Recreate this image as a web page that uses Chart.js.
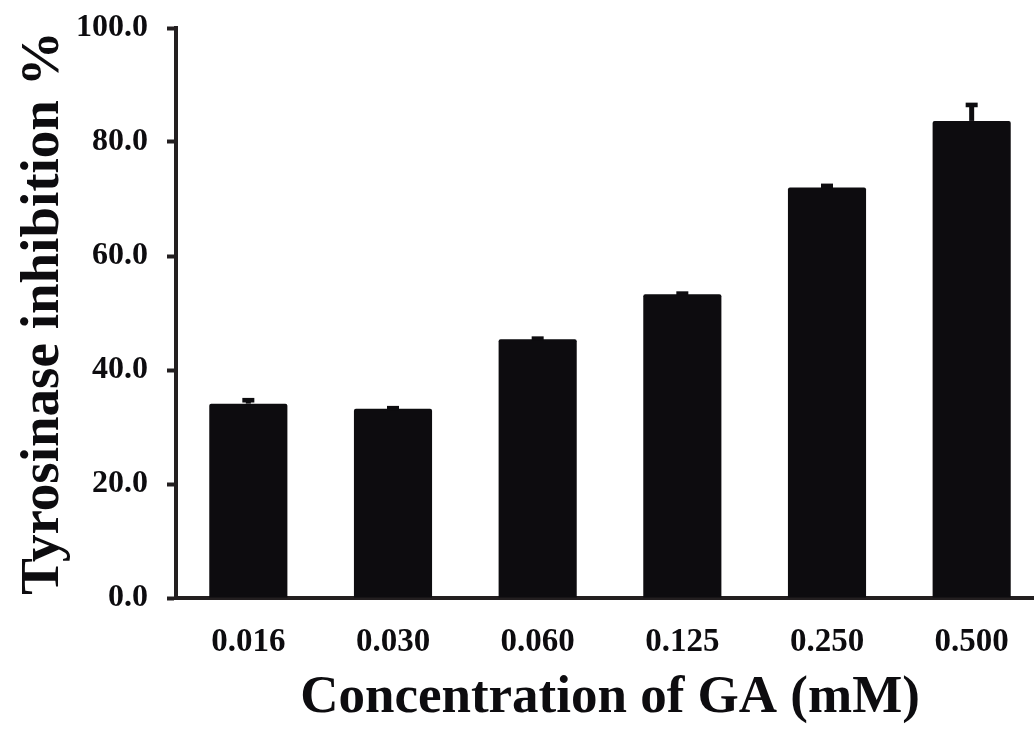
<!DOCTYPE html>
<html>
<head>
<meta charset="utf-8">
<script src="https://cdn.jsdelivr.net/npm/chart.js@4.4.1/dist/chart.umd.min.js"></script>
<style>
  html, body { margin: 0; padding: 0; background: #fff; overflow: hidden; }
  #wrap { width: 1044px; height: 732px; }
</style>
</head>
<body>
<div id="wrap"><canvas id="ga-chart"></canvas></div>
<script>
// tyrosinase inhibition by GA concentration
const concentrations = ['0.016', '0.030', '0.060', '0.125', '0.250', '0.500'];
const inhibition     = [34.1, 33.2, 45.4, 53.3, 72.0, 83.7];
const inhibitionErr  = [0.6, 0.1, 0.1, 0.1, 0.3, 2.8];
const yTicks         = [0, 20, 40, 60, 80, 100];

const INK = '#0d0c0f';
const AXIS = '#231f20';
const FONT = '"Liberation Serif", "Times New Roman", serif';

// upward-only error bars with a flat cap
const errorBars = {
  id: 'errorBars',
  afterDatasetsDraw(chart) {
    const { ctx } = chart;
    const y = chart.scales.y;
    const meta = chart.getDatasetMeta(0);
    ctx.save();
    ctx.fillStyle = INK;
    meta.data.forEach((bar, i) => {
      const top = y.getPixelForValue(inhibition[i]);
      const end = y.getPixelForValue(inhibition[i] + inhibitionErr[i]);
      ctx.fillRect(bar.x - 2.5, end, 5, top - end);
      ctx.fillRect(bar.x - 6, end - 2.3, 12, 4.6);
    });
    ctx.restore();
  }
};

new Chart(document.getElementById('ga-chart'), {
  type: 'bar',
  data: {
    labels: concentrations,
    datasets: [{
      data: inhibition,
      backgroundColor: INK,
      borderWidth: 0,
      borderRadius: 2,
      borderSkipped: 'bottom',
      barPercentage: 0.9,
      categoryPercentage: 0.6,
    }],
  },
  options: {
    responsive: true,
    maintainAspectRatio: false,
    animation: false,
    layout: { padding: 0 },
    plugins: {
      legend: { display: false },
      tooltip: { enabled: false },
    },
    scales: {
      x: {
        afterFit: scale => { scale.height = 134; },
        border: { display: true, color: AXIS, width: 4 },
        grid: { drawOnChartArea: false, drawTicks: false },
        ticks: { color: INK, padding: 25, maxRotation: 0, font: { family: FONT, size: 33, weight: 'bold' } },
        title: {
          display: true,
          text: 'Concentration of GA (mM)',
          color: INK,
          padding: { top: 0, bottom: 5 },
          font: { family: FONT, size: 53, weight: 'bold', lineHeight: 1.1 },
        },
      },
      y: {
        min: 0,
        max: 100,
        afterFit: scale => { scale.width = 176; scale.paddingTop = 28; },
        afterBuildTicks: scale => { scale.ticks = yTicks.map(v => ({ value: v })); },
        border: { display: true, color: AXIS, width: 4 },
        grid: { drawOnChartArea: false, drawTicks: true, tickLength: 9, tickWidth: 4, tickColor: AXIS },
        ticks: {
          color: INK,
          padding: 19,
          font: { family: FONT, size: 32, weight: 'bold' },
          callback: v => Number(v).toFixed(1),
        },
        title: {
          display: true,
          text: 'Tyrosinase inhibition %',
          color: INK,
          padding: { top: 14, bottom: 0 },
          font: { family: FONT, size: 55, weight: 'bold', lineHeight: 1.1 },
        },
      },
    },
  },
  plugins: [errorBars],
});
</script>
</body>
</html>
